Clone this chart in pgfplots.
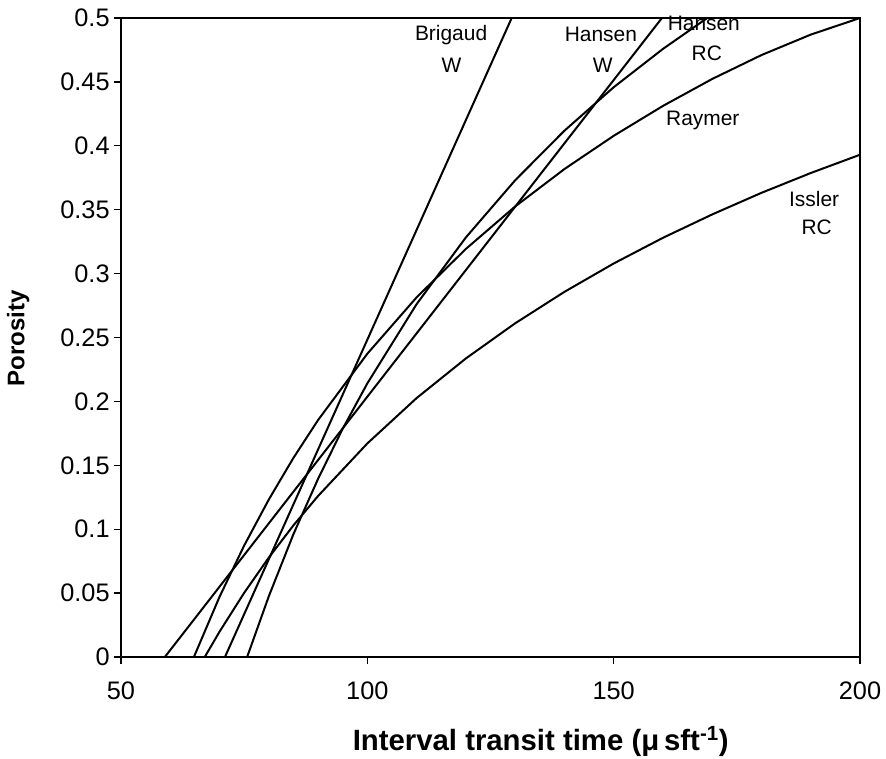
\documentclass[border=0pt]{standalone}
\usepackage{fontspec}
\setmainfont{Liberation Sans}
\usepackage{pgfplots}
\pgfplotsset{compat=1.18}
\begin{document}
\begin{tikzpicture}
\path[use as bounding box] (0,0) rectangle (664.5pt,568.5pt);
\begin{axis}[
  at={(90.75pt,75.75pt)}, anchor=south west,
  scale only axis, width=554.25pt, height=479.25pt,
  xmin=50, xmax=200, ymin=0, ymax=0.5,
  xtick={50,100,150,200},
  ytick={0,0.05,0.1,0.15,0.2,0.25,0.3,0.35,0.4,0.45,0.5},
  xtick pos=bottom, ytick pos=left,
  tick align=outside, major tick length=5pt,
  axis line style={line width=1pt},
  every tick/.style={line width=1pt, black},
  /pgf/number format/assume math mode=true,
  /pgf/number format/fixed, /pgf/number format/precision=2,
  ticklabel style={font=\fontsize{19}{23}\selectfont},
  xticklabel style={yshift=-10pt},
  clip mode=individual,
]
% Raymer
\addplot[black, line width=1.5pt] table {
64.8 0
70 0.0471
75 0.0872
80 0.1232
85 0.1558
90 0.1854
100 0.2373
110 0.2814
120 0.3193
130 0.3525
140 0.3818
150 0.4078
160 0.4312
170 0.4523
180 0.4710
190 0.4870
200 0.5000
};
% Issler RC
\addplot[black, line width=1.5pt] table {
67 0
70 0.0198
75 0.0502
80 0.0778
85 0.1030
90 0.1260
100 0.1671
110 0.2026
120 0.2336
130 0.2611
140 0.2857
150 0.3079
160 0.3280
170 0.3463
180 0.3632
190 0.3787
200 0.3930
};
% Hansen RC
\addplot[black, line width=1.5pt] table {
75.6 0
80 0.0475
85 0.0961
90 0.1394
95 0.1786
100 0.2141
110 0.2761
120 0.3283
130 0.3730
140 0.4118
150 0.4458
160 0.4758
169 0.5000
};
% Brigaud W
\addplot[black, line width=1.5pt] table {
71.1 0
129.3 0.5
};
% Hansen W
\addplot[black, line width=1.5pt] table {
58.9 0
159.8 0.5
};
\begin{scope}[font=\fontsize{15.7}{18}\selectfont]
\node at (axis cs:117.0,0.487) {Brigaud};
\node at (axis cs:117.1,0.463) {W};
\node at (axis cs:147.4,0.487) {Hansen};
\node at (axis cs:147.8,0.463) {W};
\node at (axis cs:168.3,0.496) {Hansen};
\node at (axis cs:168.9,0.472) {RC};
\node at (axis cs:168.1,0.420) {Raymer};
\node at (axis cs:190.7,0.358) {Issler};
\node at (axis cs:191.2,0.336) {RC};
\end{scope}
\node[font=\bfseries\fontsize{22}{26}\selectfont] at (rel axis cs:0.568,-0.1315) {Interval transit time (μ\,sft\textsuperscript{-1})};
\node[font=\bfseries\fontsize{18}{22}\selectfont, rotate=90] at (rel axis cs:-0.139,0.499) {Porosity};
\end{axis}
\end{tikzpicture}
\end{document}
